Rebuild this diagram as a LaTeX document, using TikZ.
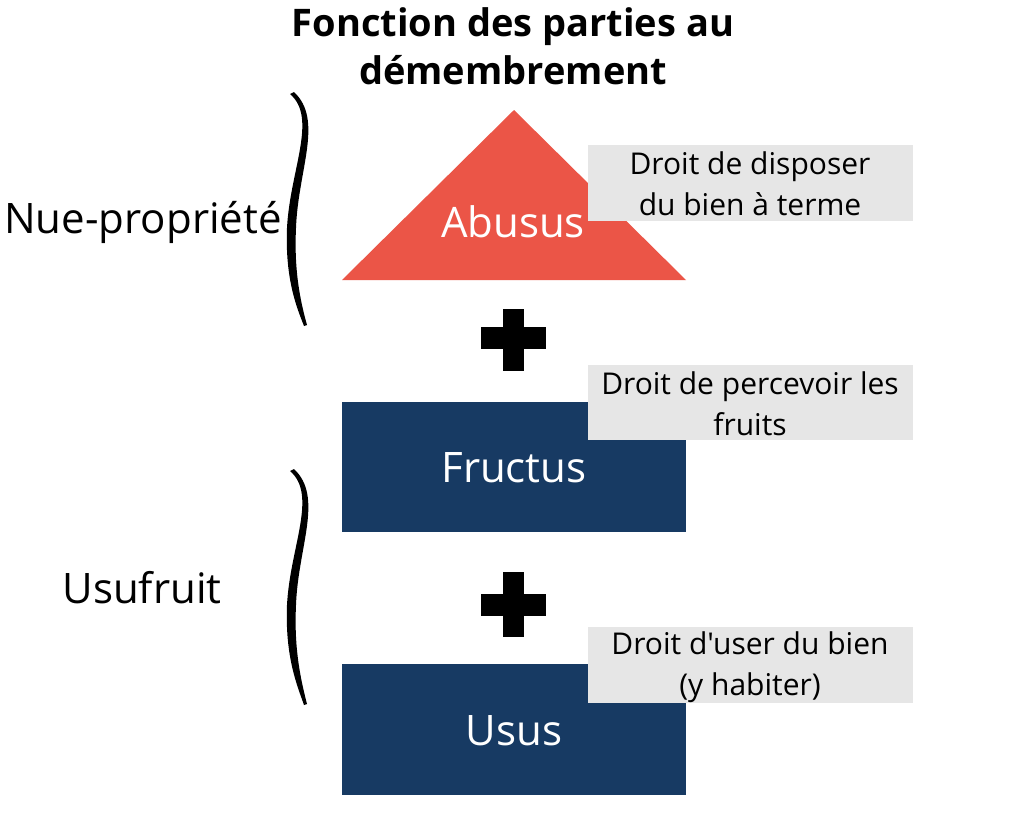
\documentclass[tikz,border=0pt]{standalone}
\usepackage{fontspec}
\setmainfont{Open Sans}[Ligatures=TeXOff]
\definecolor{redtri}{HTML}{EB5547}
\definecolor{navy}{HTML}{173A63}
\definecolor{lightgray}{HTML}{E6E6E6}
\begin{document}
\begin{tikzpicture}[x=1pt,y=-1pt,
  inner/.style={text=white,font=\fontsize{42}{44}\selectfont},
  side/.style={text=black,font=\fontsize{42}{44}\selectfont},
  note/.style={text=black,align=center,font=\fontsize{30}{41}\selectfont},
  graybox/.style={fill=lightgray,draw=none},
  bluebox/.style={fill=navy,draw=none},
  plusbar/.style={fill=black,draw=none},
  bracefill/.style={fill=black,draw=none}]
\useasboundingbox[fill=white] (0,0) rectangle (1024,812);
% title
\node[align=center,font=\fontsize{38}{48}\selectfont\bfseries] (title) at (513,46) {Fonction des parties au\\d\'emembrement};
% triangle
\fill[redtri] (514,110) -- (686,280) -- (342,280) -- cycle;
\coordinate (tri) at (514,195);
\fill[graybox] (588,145) rectangle (913,221);
\node[inner] (abusus) at (513,222) {Abusus};
\node[note] (n1) at (750,184) {Droit de disposer\\du bien \`a terme};
% plus 1
\fill[plusbar] (481,327) rectangle (546,349);
\fill[plusbar] (503,309) rectangle (524,371);
\coordinate (plus1) at (514,340);
% Fructus
\fill[bluebox] (342,402) rectangle (686,532);
\fill[graybox] (588,365) rectangle (913,440);
\node[inner] (fructus) at (514,468) {Fructus};
\node[note] (n2) at (750,404) {Droit de percevoir les\\fruits};
% plus 2
\fill[plusbar] (481,594) rectangle (546,616);
\fill[plusbar] (503,572) rectangle (524,637);
\coordinate (plus2) at (514,605);
% Usus
\fill[bluebox] (342,664) rectangle (686,795);
\fill[graybox] (588,627) rectangle (913,703);
\node[inner] (usus) at (514,731) {Usus};
\node[note] (n3) at (750,667) {Droit d'user du bien\\(y habiter)};
% side labels
\node[side] (nue) at (143,222) {Nue-propri\'et\'e};
\node[side] (usu) at (142,588) {Usufruit};
% braces
\fill[bracefill] (290,94) .. controls (318,118) and (290,170) .. (287,228)
  .. controls (285,280) and (297,308) .. (304,326)
  -- (307,325) .. controls (300,300) and (294,270) .. (296,228)
  .. controls (298,170) and (324,120) .. (294,92) -- cycle;
\fill[bracefill] (290,471) .. controls (318,495) and (290,547) .. (287,605)
  .. controls (285,657) and (297,685) .. (304,705)
  -- (307,704) .. controls (300,677) and (294,647) .. (296,605)
  .. controls (298,547) and (324,497) .. (294,469) -- cycle;
\end{tikzpicture}
\end{document}
